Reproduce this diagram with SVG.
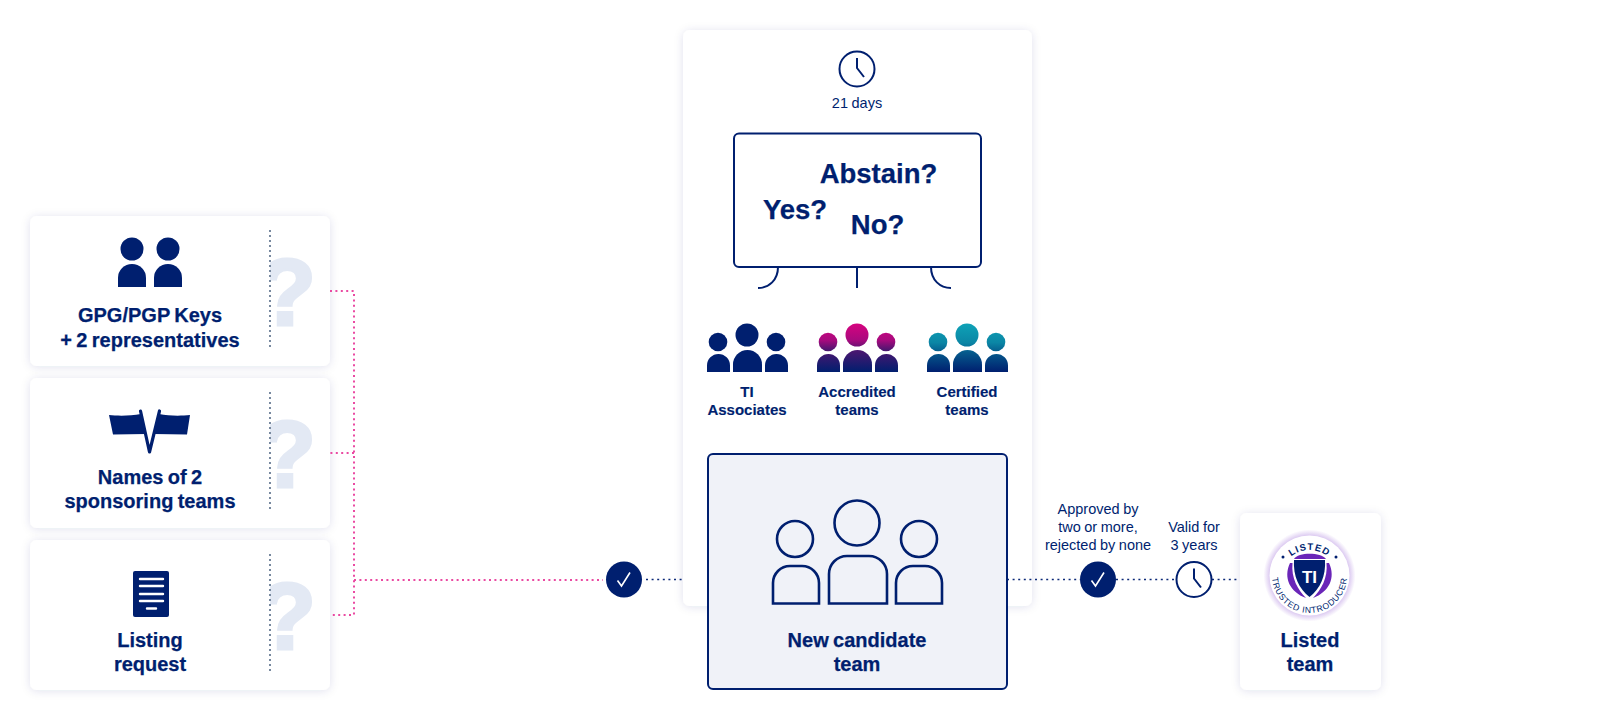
<svg xmlns="http://www.w3.org/2000/svg" xmlns:xlink="http://www.w3.org/1999/xlink" width="1600" height="720" viewBox="0 0 1600 720">
<style>
text{font-family:"Liberation Sans",Arial,sans-serif;fill:#001f6f;text-anchor:middle}
.b20{font-size:20px;font-weight:700;word-spacing:-1.200px;stroke:#001f6f;stroke-width:.25px}
.b15{font-size:15px;font-weight:700;stroke:#001f6f;stroke-width:.15px}
.r14{font-size:14.500px;word-spacing:-.5px}
.b26{font-size:27.500px;font-weight:700;stroke:#001f6f;stroke-width:.25px}
.q{font-size:95px;font-weight:700;fill:#e3e9f4;stroke:#e3e9f4;stroke-width:3px}
.card{fill:#fff;filter:url(#sh)}
.ink{fill:#001f6f}
.ol{fill:none;stroke:#001f6f;stroke-width:2}
.ol3{fill:none;stroke:#001f6f;stroke-width:2.600}
.grey{stroke:#78899f;stroke-width:2;stroke-dasharray:2 3;fill:none}
.pink{stroke:#ea4aa2;stroke-width:2;stroke-dasharray:2 3.400;fill:none}
.blue{stroke:#0d2a78;stroke-width:1.600;stroke-dasharray:2 3.600;fill:none}
.wl{stroke:#fff;stroke-width:2.400;stroke-linecap:round;fill:none}
</style>
<defs>
<filter id="sh" x="-15%" y="-15%" width="130%" height="130%"><feDropShadow dx="0" dy="1" stdDeviation="5" flood-color="#1a2a6c" flood-opacity=".12"/></filter>
<linearGradient id="gp" gradientUnits="userSpaceOnUse" x1="0" y1="323" x2="0" y2="372"><stop offset="0" stop-color="#d8037f"/><stop offset=".35" stop-color="#a80a7e"/><stop offset=".55" stop-color="#4d1670"/><stop offset="1" stop-color="#001f6f"/></linearGradient>
<linearGradient id="gt" gradientUnits="userSpaceOnUse" x1="0" y1="323" x2="0" y2="372"><stop offset="0" stop-color="#0ea3b7"/><stop offset=".4" stop-color="#0b86a5"/><stop offset=".6" stop-color="#055a8c"/><stop offset="1" stop-color="#001f6f"/></linearGradient>
<radialGradient id="glow"><stop offset=".82" stop-color="#8a4fd0" stop-opacity=".4"/><stop offset="1" stop-color="#8a4fd0" stop-opacity="0"/></radialGradient>
<clipPath id="qc"><rect x="270" y="216" width="60" height="480"/></clipPath>
<g id="team"><circle cx="747" cy="335" r="11.500"/><circle cx="718" cy="342" r="9.300"/><circle cx="776" cy="342" r="9.300"/><path d="M733 372V364.500a14.500 14.500 0 0 1 29 0V372Z"/><path d="M707 372V365.500a11.500 11.500 0 0 1 23 0V372Z"/><path d="M765 372V365.500a11.500 11.500 0 0 1 23 0V372Z"/></g>
<g id="check"><circle r="18" class="ink"/><path d="M-6.500 1L-2.500 6.500L6 -7" fill="none" stroke="#fff" stroke-width="1.600"/></g>
<g id="clock"><circle r="17.500" fill="#fff" class="ol"/><path d="M0 -11V-1L7 8" class="ol"/></g>
<path id="arcTop" d="M1279.500 580a30 30 0 0 1 60 0"/>
<path id="arcBot" d="M1272 575.500a37.500 37.500 0 0 0 75 0"/>
</defs>
<rect width="1600" height="720" fill="#fff"/>

<g id="n-keys"><rect class="card" x="30" y="216" width="300" height="150" rx="7"/>
<circle class="ink" cx="132" cy="249" r="11.500"/><circle class="ink" cx="168" cy="249" r="11.500"/>
<path class="ink" d="M118 287V278a14 14 0 0 1 28 0V287Z"/><path class="ink" d="M154 287V278a14 14 0 0 1 28 0V287Z"/>
<text class="b20" x="150" y="322">GPG/PGP Keys</text><text class="b20" x="150" y="347">+ 2 representatives</text>
<text class="q" x="287" y="324.500" clip-path="url(#qc)">?</text><path class="grey" d="M270 230V348"/></g>

<g id="n-sponsors"><rect class="card" x="30" y="378" width="300" height="150" rx="7"/>
<path class="ink" d="M109 415C118 416 130 416 141 414L146 434L113 434.500Z"/><path class="ink" d="M190 415C181 416 169 416 159 414L154 434L187 434.500Z"/>
<path d="M140.500 411L149.500 452L159.500 411" fill="none" stroke="#001f6f" stroke-width="3.200" stroke-linejoin="round" stroke-linecap="round"/>
<text class="b20" x="150" y="484">Names of 2</text><text class="b20" x="150" y="508">sponsoring teams</text>
<text class="q" x="287" y="486.500" clip-path="url(#qc)">?</text><path class="grey" d="M270 392V510"/></g>

<g id="n-request"><rect class="card" x="30" y="540" width="300" height="150" rx="7"/>
<rect class="ink" x="133" y="571" width="36" height="46" rx="2"/>
<path class="wl" d="M140 579H163M140 586H163M140 594H163M140 601H163M147 608.500H156"/>
<text class="b20" x="150" y="647">Listing</text><text class="b20" x="150" y="671">request</text>
<text class="q" x="287" y="648.500" clip-path="url(#qc)">?</text><path class="grey" d="M270 554V672"/></g>

<g id="n-vote"><rect class="card" x="683" y="30" width="349" height="576" rx="7"/>
<use href="#clock" x="857" y="69"/>
<text class="r14" x="857" y="108">21 days</text>
<rect class="ol" x="734" y="133.500" width="247" height="133.500" rx="5"/>
<text class="b26" x="878.500" y="183">Abstain?</text><text class="b26" x="795" y="219">Yes?</text><text class="b26" x="877.500" y="234">No?</text>
<path class="ol" d="M778 267C778 280 769 288 758 288M857 267V288M931 267C931 280 940 288 951 288"/>
<use href="#team" fill="#001f6f"/>
<use href="#team" x="110" fill="url(#gp)"/>
<use href="#team" x="220" fill="url(#gt)"/>
<text class="b15" x="747" y="397">TI</text><text class="b15" x="747" y="415">Associates</text>
<text class="b15" x="857" y="397">Accredited</text><text class="b15" x="857" y="415">teams</text>
<text class="b15" x="967" y="397">Certified</text><text class="b15" x="967" y="415">teams</text></g>

<g id="connectors">
<path class="pink" d="M330 291H354V615H330M354 453H330M354 580H603"/>
<path class="blue" d="M646 579.500H683M1007 579.500H1080M1116 579.500H1176M1212 579.500H1240"/>
</g>

<g id="n-candidate"><rect x="708" y="454" width="299" height="235" rx="5" fill="#f0f2f8" stroke="#001f6f" stroke-width="2"/>
<circle class="ol3" cx="857" cy="523" r="22.500"/><circle class="ol3" cx="795" cy="539" r="18"/><circle class="ol3" cx="919" cy="539" r="18"/>
<path class="ol3" d="M829 603.500V574a18 18 0 0 1 18 -18H869a18 18 0 0 1 18 18V603.500Z"/>
<path class="ol3" d="M773 603.500V583a17 17 0 0 1 17 -17H802a17 17 0 0 1 17 17V603.500Z"/>
<path class="ol3" d="M896 603.500V583a17 17 0 0 1 17 -17H925a17 17 0 0 1 17 17V603.500Z"/>
<text class="b20" x="857" y="647">New candidate</text><text class="b20" x="857" y="671">team</text></g>

<g id="n-check-1"><use href="#check" x="624" y="579.500"/></g>
<g id="n-approved"><use href="#check" x="1098" y="579.500"/>
<text class="r14" x="1098" y="514">Approved by</text><text class="r14" x="1098" y="532">two or more,</text><text class="r14" x="1098" y="550">rejected by none</text></g>
<g id="n-valid"><use href="#clock" x="1194" y="579.500"/>
<text class="r14" x="1194" y="532">Valid for</text><text class="r14" x="1194" y="550">3 years</text></g>

<g id="n-listed"><rect class="card" x="1240" y="513" width="141" height="177" rx="7"/>
<circle cx="1309.500" cy="575.500" r="46" fill="url(#glow)"/><circle cx="1309.500" cy="575.500" r="40" fill="#fff"/>
<circle cx="1283" cy="557" r="1.500" class="ink"/><circle cx="1336" cy="557" r="1.500" class="ink"/>
<path fill="#6a25b8" d="M1294 559C1298 552 1321 552 1326 559Z"/>
<path fill="#6a25b8" d="M1290 563C1283 578 1290 592 1306 598C1298 590 1291 578 1292.500 563ZM1329 563C1336 578 1329 592 1313 598C1321 590 1328 578 1326.500 563Z"/>
<path class="ink" d="M1294 560H1325C1326 576 1320 589 1309.500 597C1299 589 1293 576 1294 560Z"/>
<text x="1309.500" y="583" style="font-size:17px;font-weight:700;fill:#fff">TI</text>
<text style="font-size:9.500px;font-weight:700;letter-spacing:1px"><textPath href="#arcTop" startOffset="50%">LISTED</textPath></text>
<text style="font-size:8.600px;letter-spacing:.7px"><textPath href="#arcBot" startOffset="50%">TRUSTED INTRODUCER</textPath></text>
<text class="b20" x="1310" y="647">Listed</text><text class="b20" x="1310" y="671">team</text></g>
</svg>
